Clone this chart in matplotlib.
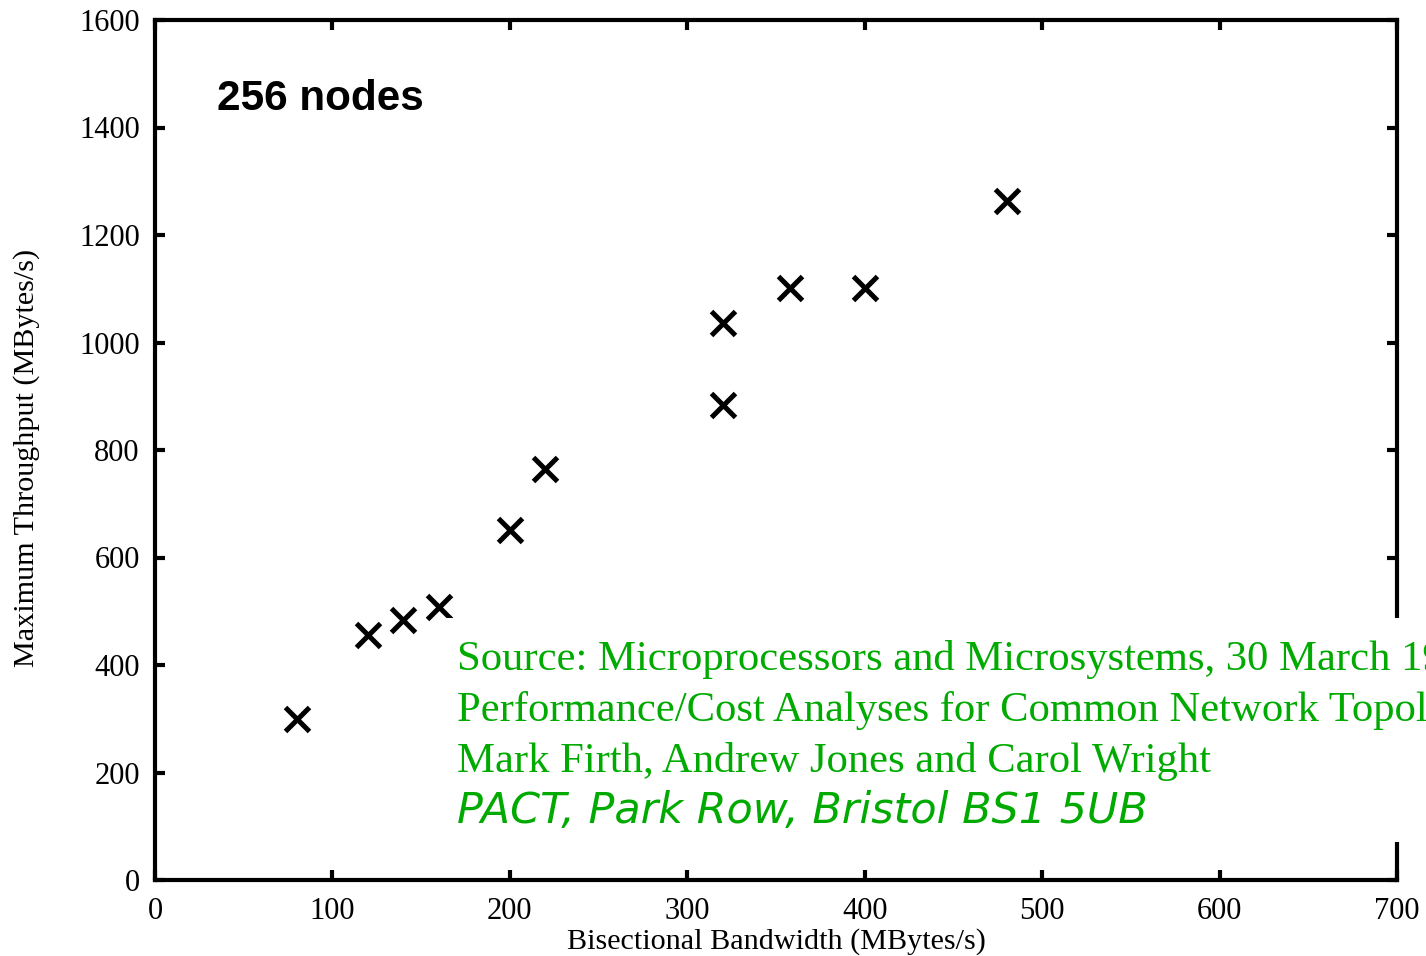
import matplotlib
matplotlib.use("Agg")
import matplotlib.pyplot as plt
from matplotlib.patches import Rectangle

bandwidth = [80, 120, 140, 160, 200, 220, 320, 320, 358, 400, 480]
throughput = [300, 455, 483, 508, 652, 765, 884, 1037, 1102, 1102, 1264]
x_ticks = [0, 100, 200, 300, 400, 500, 600, 700]
y_ticks = [0, 200, 400, 600, 800, 1000, 1200, 1400, 1600]
source_lines = [
    "Source: Microprocessors and Microsystems, 30 March 1995",
    "Performance/Cost Analyses for Common Network Topologies",
    "Mark Firth, Andrew Jones and Carol Wright",
]
address_line = "PACT, Park Row, Bristol BS1 5UB"

W, H = 1426, 956
fig = plt.figure(figsize=(W / 100, H / 100), dpi=100)
ax = fig.add_axes([155 / W, 1 - 880 / H, (1397 - 155) / W, (880 - 20) / H])

ax.plot(bandwidth, throughput, linestyle="none", marker="x", color="black",
        markersize=17, markeredgewidth=3.6)

ax.set_xlim(0, 700)
ax.set_ylim(0, 1600)
ax.set_xticks(x_ticks)
ax.set_yticks(y_ticks)
serif = "Liberation Serif"
ax.set_xticklabels([str(v) for v in x_ticks], fontfamily=serif, fontsize=22)
ax.set_yticklabels([str(v) for v in y_ticks], fontfamily=serif, fontsize=22)
ax.tick_params(direction="in", length=7, width=3, top=True, right=True,
               colors="black")
ax.tick_params(axis="x", pad=12)
ax.tick_params(axis="y", pad=11)
for s in ax.spines.values():
    s.set_linewidth(3)

ax.set_xlabel("Bisectional Bandwidth (MBytes/s)", fontfamily=serif, fontsize=21.7,
              labelpad=2)
ax.set_ylabel("Maximum Throughput (MBytes/s)", fontfamily=serif, fontsize=21.7)
ax.yaxis.set_label_coords((40 - 155) / 1242, (880 - 458) / 860)

ax.text(217 / W, 1 - 110 / H, "256 nodes", transform=fig.transFigure,
        fontfamily="Liberation Sans", fontweight="bold", fontsize=30.4)

# white box over right spine behind source text
fig.patches.append(Rectangle((445 / W, 1 - 842 / H), (W - 445) / W, (842 - 618) / H,
                             transform=fig.transFigure, facecolor="white",
                             edgecolor="none", zorder=5))

green = "#00aa00"
baselines = [670, 721, 772]
for line, b in zip(source_lines, baselines):
    fig.text(457 / W, 1 - b / H, line, fontfamily=serif, fontsize=30.7,
             color=green, va="baseline", zorder=6)
fig.text(457 / W, 1 - 823 / H, address_line, fontfamily="DejaVu Sans",
         style="oblique", fontsize=30.9, color=green, va="baseline", zorder=6)

fig.savefig("out.png", dpi=100)
